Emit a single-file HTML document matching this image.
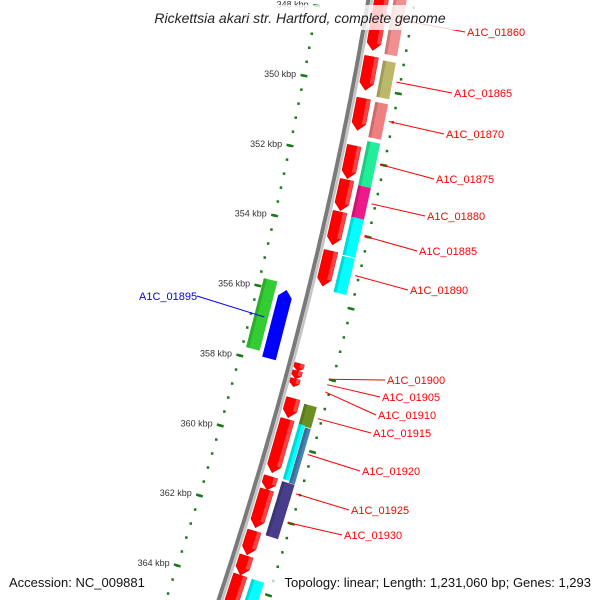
<!DOCTYPE html>
<html><head><meta charset="utf-8"><style>
html,body{margin:0;padding:0;width:600px;height:600px;overflow:hidden;background:#fff}
svg{display:block;font-family:"Liberation Sans","DejaVu Sans",sans-serif}
</style></head><body>
<svg id="map" width="600" height="600" viewBox="0 0 600 600" xmlns="http://www.w3.org/2000/svg" overflow="hidden">
<g id="rings"></g>
<g id="genes"></g>
<g id="labels"></g>
<rect x="135" y="5" width="330" height="25" fill="#fff" opacity="0.8"/>
<text x="300" y="23" text-anchor="middle" font-size="14" font-style="italic" fill="#222">Rickettsia akari str. Hartford, complete genome</text>
<rect x="5" y="573" width="145" height="18" fill="#fff" opacity="0.7"/>
<rect x="268" y="573" width="326" height="18" fill="#fff" opacity="0.7"/>
<text x="9" y="587" font-size="13" fill="#111">Accession: NC_009881</text>
<text x="591" y="587" text-anchor="end" font-size="13" fill="#111">Topology: linear; Length: 1,231,060 bp; Genes: 1,293</text>
</svg>
<script>
// ---- data (kbp) ----
const redStart=[347.0,349.13,350.31,351.64,352.60,353.50,354.60,357.79,358.00,358.22,358.75,359.34,360.95,361.32,362.48,363.18,363.72];
const redEnd  =[348.96,350.08,351.21,352.57,353.47,354.43,355.59,358.00,358.22,358.44,359.29,360.84,361.32,362.39,363.15,363.72,365.0];
const colStart=[347.0,349.18,350.34,351.44,352.68,353.56,354.66,358.81,360.98,361.37,363.72];
const colEnd  =[349.0,350.20,351.33,352.68,353.58,354.63,355.67,359.40,361.43,362.50,364.6];
const colColor=['#f09090','#bdb76b','#f08080','#22ee99','#ee1a8a','#00ffff','#00ffff','#6b8e23','#483d8b','#483d8b','#00ffff'];
const splitStart=[359.37];const splitEnd=[360.92];
const leftStart=[355.76,355.93];const leftEnd=[357.73,357.87];
const leftColor=['#33cc33','#0000ff'];
const tickKbp=[348,350,352,354,356,358,360,362,364];
const tickLabels=['348 kbp','350 kbp','352 kbp','354 kbp','356 kbp','358 kbp','360 kbp','362 kbp','364 kbp'];
const labelNames=['A1C_01860','A1C_01865','A1C_01870','A1C_01875','A1C_01880','A1C_01885','A1C_01890','A1C_01895','A1C_01900','A1C_01905','A1C_01910','A1C_01915','A1C_01920','A1C_01925','A1C_01930'];
const labelKbp=[348.0,349.7,350.8,352.0,353.1,354.0,355.1,356.8,358.0,358.15,358.35,359.1,360.1,361.2,362.0];
const labelX=[467,454,446,436,427,419,410,139,387,382,378,373,362,351,344];
const labelY=[36,97,138,183,220,255,294,300,384,401,419,437,475,514,539];

const NS='http://www.w3.org/2000/svg';
function el(t,a,p){const e=document.createElementNS(NS,t);for(const k in a)e.setAttribute(k,a[k]);p.appendChild(e);return e;}
function kToY(k){return 85+(k-350)*35.43;}
function bx(y){return 368.3-0.1672*y-1.374e-4*y*y;}
function slope(y){return -0.1672-2*1.374e-4*y;}
function P(k,d){const y=kToY(k),s=slope(y),n=Math.sqrt(1+s*s);return [bx(y)+d/n,y-d*s/n];}
function pts(a){return a.map(p=>p[0].toFixed(1)+','+p[1].toFixed(1)).join(' ');}
const rings=document.getElementById('rings'),genes=document.getElementById('genes'),labels=document.getElementById('labels');

function linePath(d){let s='';for(let k=343;k<=366;k+=0.2){const p=P(k,d);s+=(s?'L':'M')+p[0].toFixed(1)+' '+p[1].toFixed(1);}return s;}
let bb=el('path',{d:linePath(0),stroke:'#7a7a7a','stroke-width':4,fill:'none'},rings);

let bb2=el('path',{d:linePath(3.5),stroke:'#c4c4c4','stroke-width':2.5,fill:'none'},rings);


for(let i=0;i<=58;i++){const k=343.6+i*0.4;
 [-50,46].forEach(d=>{const p=P(k,d);
  if(p[1]<-2||p[1]>602)return;
  const dot=el('rect',{x:(p[0]-1.2).toFixed(1),y:(p[1]-1.2).toFixed(1),width:2.5,height:2.5,fill:'#1a7a1a'},rings);
  });}
tickKbp.forEach((k,i)=>{
 [-50,46].forEach(d=>{const a=P(k,d-3.5),b=P(k,d+3.5);
  const t=el('line',{x1:a[0],y1:a[1],x2:b[0],y2:b[1],stroke:'#1a7a1a','stroke-width':2.5},rings);
  });
 const p=P(k,-58);
 const tl=el('text',{x:p[0].toFixed(1),y:(p[1]+3).toFixed(1),'text-anchor':'end','font-size':9,fill:'#333'},rings);
 tl.textContent=tickLabels[i];
 
});

function arrowDown(k1,k2,d1,d2,col,name){const len=kToY(k2)-kToY(k1);const h=Math.min(7,len*0.45)/35.43;
 const g=el('polygon',{points:pts([P(k1,d1),P(k1,d2),P(k2-h,d2),P(k2,(d1+d2)/2),P(k2-h,d1)]),fill:col,stroke:'#c00000','stroke-width':0.5},genes);
 
 const hl=el('polygon',{points:pts([P(k1,d2-4),P(k1,d2),P(k2-h,d2),P(k2-h,d2-4)]),fill:'#ff7070',opacity:0.6},genes);
 }
function box(k1,k2,d1,d2,col,name){
 const g=el('polygon',{points:pts([P(k1,d1),P(k1,d2),P(k2,d2),P(k2,d1)]),fill:col},genes);
 
 const hl=el('polygon',{points:pts([P(k1,d1),P(k1,d1+3),P(k2,d1+3),P(k2,d1)]),fill:'#000',opacity:0.15},genes);
 }
redStart.forEach((s,i)=>{const small=(redEnd[i]-s)<0.3;arrowDown(s,redEnd[i],small?5:6,small?15:20,'#ff0000','red-gene');});
colStart.forEach((s,i)=>box(s,colEnd[i],25,38,colColor[i],'feature-box'));
splitStart.forEach((s,i)=>{box(s,splitEnd[i],25,31.5,'#00ffff','feature-box-cyan');box(s+0.05,splitEnd[i]+0.05,32,38,'#4682b4','feature-box-steelblue');});
box(leftStart[0],leftEnd[0],-46,-32,leftColor[0],'green-gene');
(function(){const k1=leftStart[1],k2=leftEnd[1],h=7/35.43;
 const g=el('polygon',{points:pts([P(k1,-21),P(k1+h,-14),P(k2,-14),P(k2,-28),P(k1+h,-28)]),fill:leftColor[1]},genes);
 })();

labelNames.forEach((nm,i)=>{const left=labelX[i]<250;const col=left?'#0000ff':'#ff0000';
 const p=P(labelKbp[i],left?-36:42);
 const tx=left?labelX[i]+58:labelX[i]-2;
 const ln=el('line',{x1:p[0].toFixed(1),y1:p[1].toFixed(1),x2:tx,y2:labelY[i]-4,stroke:col,'stroke-width':1},labels);
 
 const t=el('text',{x:labelX[i],y:labelY[i],'font-size':11,fill:col},labels);
 t.textContent=nm;
 
});
</script>
</body></html>
